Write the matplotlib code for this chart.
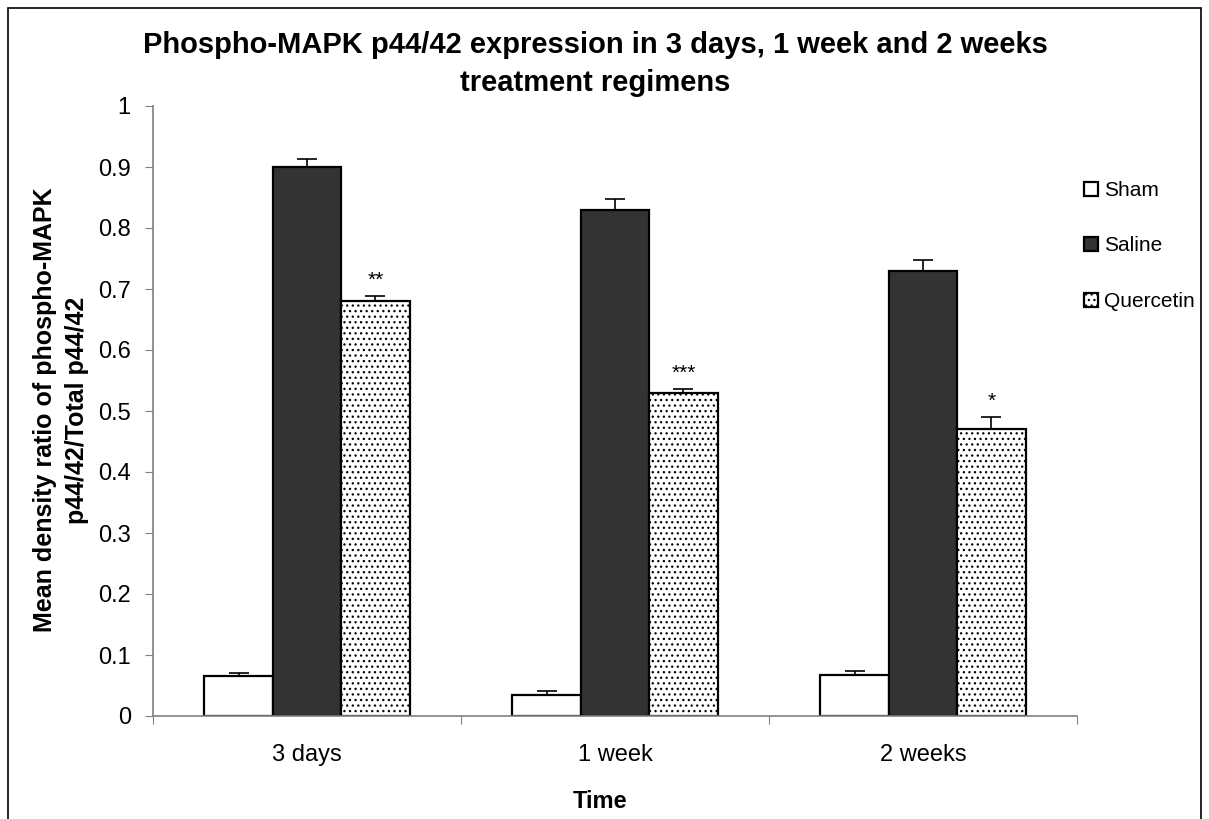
import matplotlib
matplotlib.use("Agg")
import matplotlib.pyplot as plt
from matplotlib.patches import Rectangle
import numpy as np

plt.rcParams['font.family'] = ['Liberation Sans', 'DejaVu Sans']
plt.rcParams['hatch.linewidth'] = 0.9
plt.rcParams['hatch.color'] = '#333333'

categories = ["3 days", "1 week", "2 weeks"]
series = ["Sham", "Saline", "Quercetin"]
sham = [0.065, 0.035, 0.068]
sham_err = [0.005, 0.006, 0.005]
saline = [0.90, 0.83, 0.73]
saline_err = [0.013, 0.018, 0.017]
quercetin = [0.68, 0.53, 0.47]
quercetin_err = [0.009, 0.006, 0.020]
stars = ["**", "***", "*"]

fig = plt.figure(figsize=(12.09, 8.19), dpi=100)
ax = fig.add_axes([153/1209, 1-716/819, (1077-153)/1209, (716-106)/819])

x = np.arange(len(categories)) + 0.5
w = 1/4.5
styles = [dict(color="white", hatch=None), dict(color="#333333", hatch=None),
          dict(color="white", hatch="...")]
data = [(sham, sham_err), (saline, saline_err), (quercetin, quercetin_err)]
for i, ((vals, errs), st, name) in enumerate(zip(data, styles, series)):
    pos = x + (i - 1) * w
    ax.bar(pos, vals, width=w, facecolor=st["color"], edgecolor="black",
           linewidth=1.6, hatch=st["hatch"], label=name, zorder=2)
    ax.errorbar(pos, vals, yerr=[np.zeros(len(errs)), errs], fmt="none",
                ecolor="black", elinewidth=1.2, capsize=7, capthick=1.2, zorder=3)

for xi, v, e, s in zip(x + w, quercetin, quercetin_err, stars):
    ax.text(xi, v + e + 0.01, s, ha="center", va="bottom", fontsize=15)

ax.set_xlim(0, 3)
ax.set_ylim(0, 1)
ax.set_yticks(np.arange(0, 1.01, 0.1))
ax.set_yticklabels(["0", "0.1", "0.2", "0.3", "0.4", "0.5", "0.6", "0.7", "0.8", "0.9", "1"])
ax.set_xticks([0, 1, 2, 3])
ax.set_xticklabels([])
ax.set_xticks(x, minor=True)
ax.set_xticklabels(categories, minor=True)
ax.tick_params(axis="x", which="minor", length=0, pad=20, labelsize=17)
ax.tick_params(axis="x", which="major", length=6, direction="out", color="#808080")
ax.tick_params(axis="y", length=6, direction="out", color="#808080", labelsize=17, pad=10)
for sp in ["top", "right"]:
    ax.spines[sp].set_visible(False)
for sp in ["left", "bottom"]:
    ax.spines[sp].set_color("#808080")
    ax.spines[sp].set_linewidth(1.2)

fig.text(61/1209, 1-410/819, "Mean density ratio of phospho-MAPK\np44/42/Total p44/42",
         rotation=90, ha="center", va="center", fontsize=18, fontweight="bold",
         linespacing=1.45)
fig.text(600/1209, 1-801/819, "Time", ha="center", va="center", fontsize=17,
         fontweight="bold")
fig.text(595/1209, 1-64/819, "Phospho-MAPK p44/42 expression in 3 days, 1 week and 2 weeks\ntreatment regimens",
         ha="center", va="center", fontsize=21, fontweight="bold", linespacing=1.45)

leg = fig.legend(loc="upper left", bbox_to_anchor=(1084/1209, 1-181/819), frameon=False,
                 fontsize=15, handlelength=0.65, handleheight=0.65, handletextpad=0.3,
                 labelspacing=1.75, borderaxespad=0, borderpad=0)

fig.patches.append(Rectangle((8/1209, -0.05), (1201-8)/1209, (1-8/819) + 0.05,
                             transform=fig.transFigure, fill=False, edgecolor="black",
                             linewidth=1.2))

fig.savefig("out.png", dpi=100)
